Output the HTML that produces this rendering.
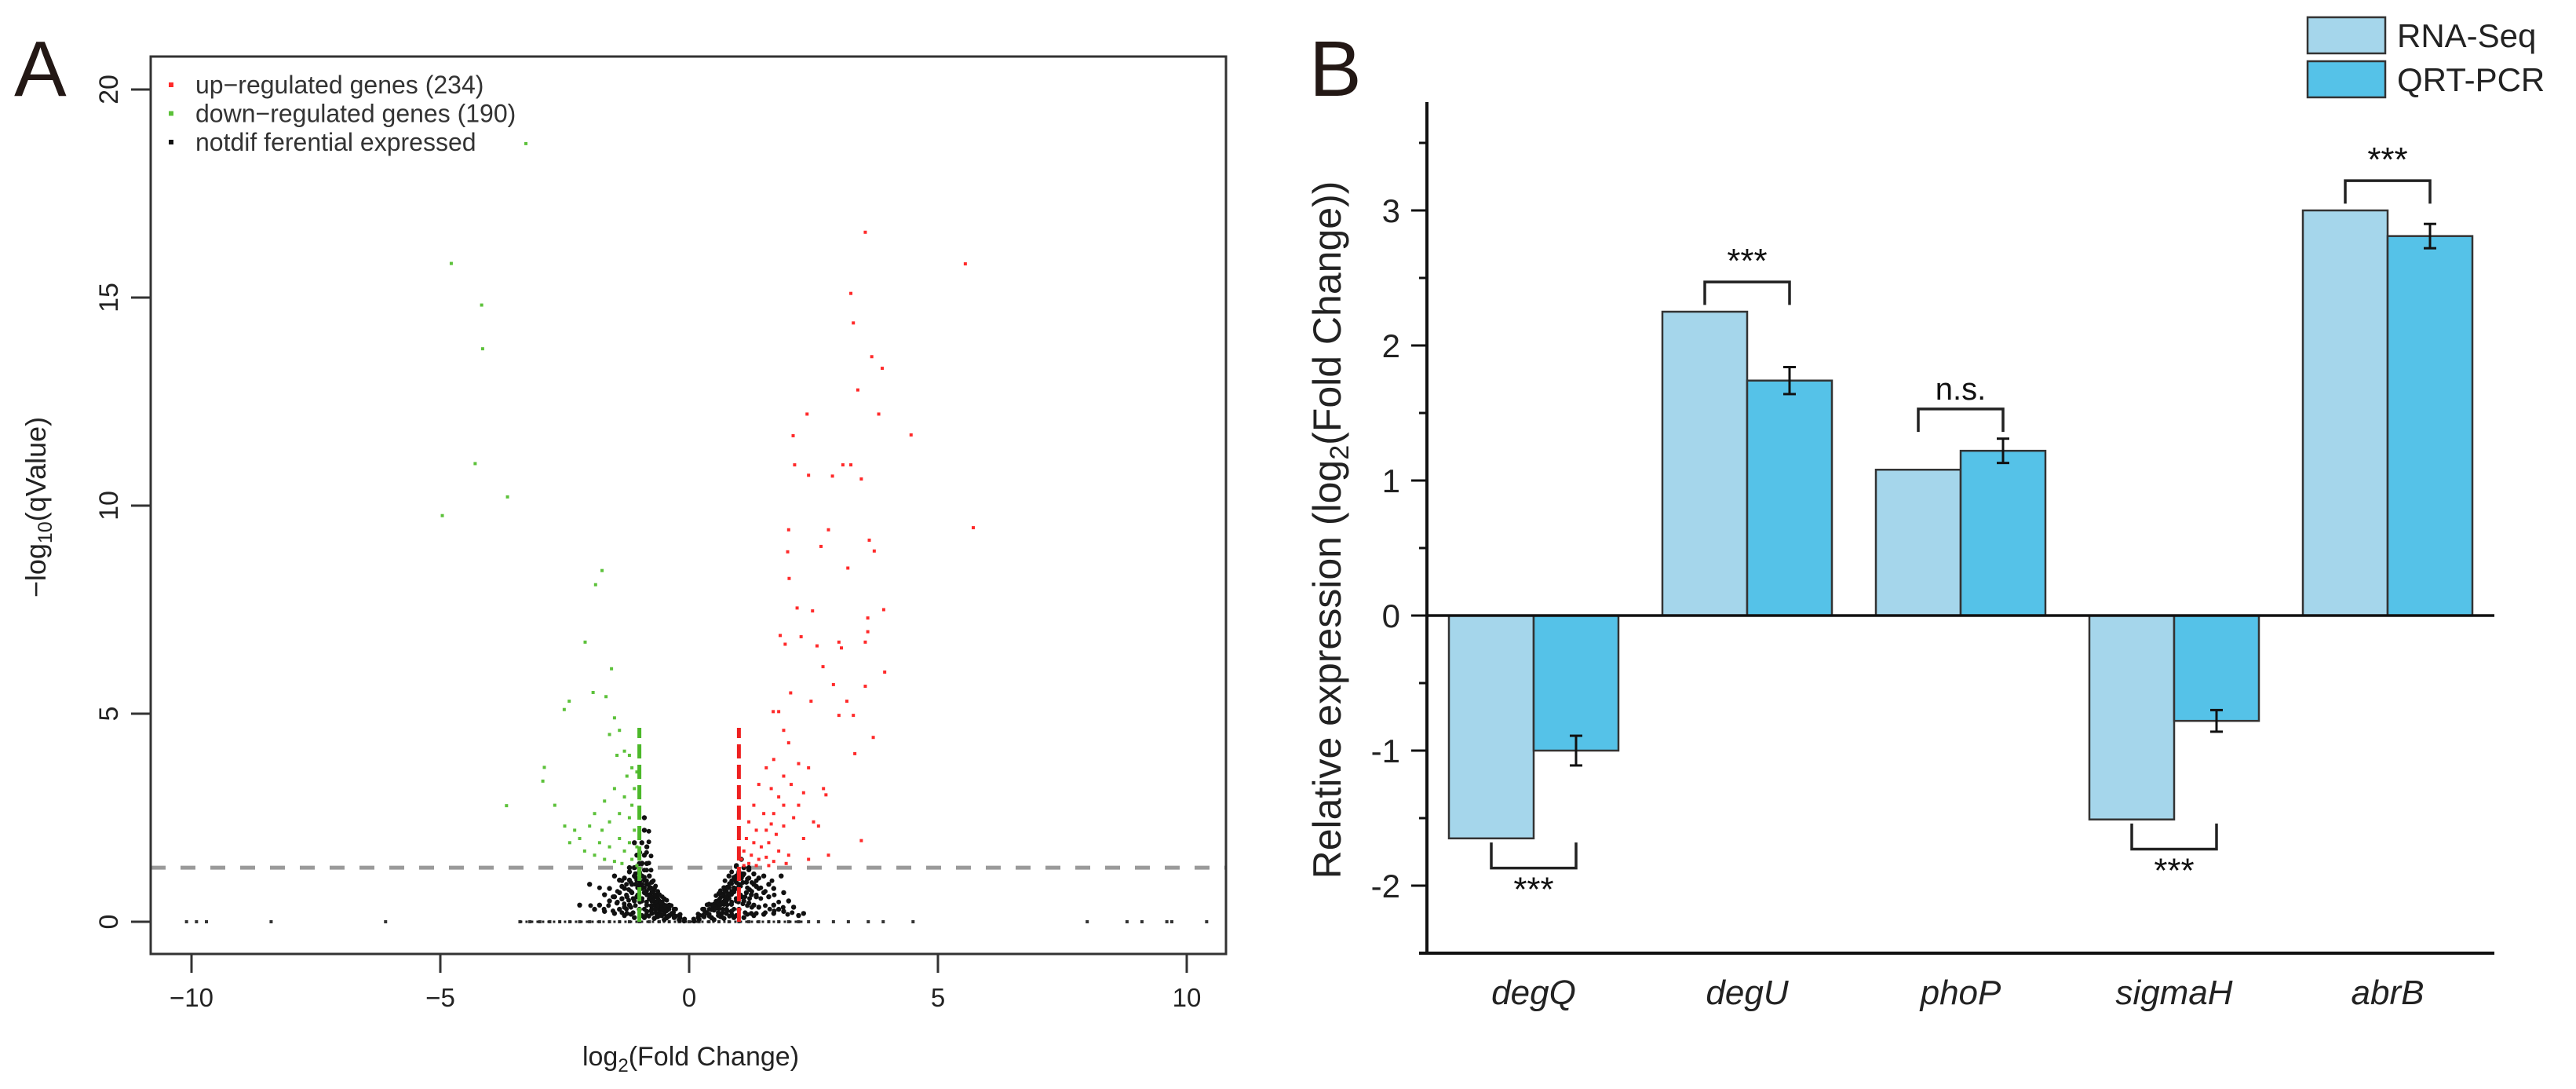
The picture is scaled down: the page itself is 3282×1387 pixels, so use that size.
<!DOCTYPE html>
<html><head><meta charset="utf-8">
<style>
html,body{margin:0;padding:0;background:#fff;}
svg{display:block;font-family:"Liberation Sans",Arial,sans-serif;}
</style></head>
<body>
<svg id="fig" width="3282" height="1387" viewBox="0 0 3282 1387" xmlns="http://www.w3.org/2000/svg">
<g id="panelA"></g>
<g id="panelB"></g>
</svg>
<script>
// ---------- Panel A data ----------
const upX = [3.54,5.55,3.25,3.30,3.67,3.88,3.39,2.37,3.81,4.46,2.09,2.12,3.09,3.25,2.40,2.88,3.46,5.71,2.00,2.80,2.65,3.62,3.72,1.98,3.19,2.01,3.91,2.17,2.48,3.59,1.83,1.93,3.01,3.06,3.59,3.54,2.57,2.25,3.93,2.69,2.04,2.90,3.17,3.54,3.01,1.69,1.80,2.45,3.30,3.70,3.33,3.46,
1.9,2.0,1.7,1.55,1.9,2.2,2.4,1.4,1.65,1.8,2.05,2.3,2.7,2.75,1.3,1.5,1.7,1.9,2.1,2.5,1.2,1.35,1.55,1.75,1.9,2.3,1.15,1.3,1.45,1.6,1.8,2.0,1.1,1.25,1.4,1.55,1.7,2.4,2.8,1.05,1.2,1.35,1.1,1.6,1.95,2.6,2.2,1.65];
const upY = [16.57,15.81,15.10,14.39,13.58,13.30,12.78,12.20,12.20,11.70,11.68,10.98,10.98,10.98,10.73,10.71,10.64,9.47,9.42,9.42,9.02,9.17,8.91,8.89,8.50,8.25,7.50,7.54,7.47,7.30,6.88,6.67,6.72,6.58,6.97,6.72,6.63,6.85,6.00,6.13,5.50,5.70,5.30,5.66,4.96,5.05,5.05,5.30,4.96,4.43,4.04,1.95,
4.6,4.3,3.9,3.7,3.5,3.8,3.7,3.3,3.2,3.0,3.3,3.1,3.2,3.05,2.8,2.6,2.6,2.8,2.5,2.4,2.4,2.2,2.2,2.1,2.3,2.0,2.0,1.9,1.8,1.9,1.7,1.6,1.7,1.6,1.5,1.55,1.45,1.5,1.6,1.5,1.4,1.35,1.35,1.35,1.4,2.3,2.8,2.35];
const downX = [-3.28,-4.78,-4.17,-4.15,-4.30,-3.65,-4.96,-1.75,-1.88,-2.09,-1.56,-1.93,-1.67,-2.41,-2.51,-2.91,-2.94,-3.67,
-1.5,-1.4,-1.6,-1.3,-1.2,-1.45,-1.15,-1.05,-1.25,-2.7,-2.5,-2.3,-2.2,-2.0,-1.9,-1.7,-1.5,-1.3,-1.1,-1.6,-1.4,-1.2,-1.1,-1.8,-1.6,-1.4,-1.3,-1.2,-1.05,-2.1,-1.9,-1.7,-1.5,-1.35,-1.15,-1.05,-2.4,-1.0,-1.0,-1.15,-1.75];
const downY = [18.70,15.82,14.82,13.77,11.01,10.21,9.76,8.44,8.10,6.72,6.08,5.51,5.41,5.30,5.10,3.71,3.38,2.79,
4.9,4.6,4.5,4.1,4.0,4.0,3.7,3.6,3.5,2.8,2.3,2.2,2.0,2.3,2.6,2.9,3.2,3.0,3.2,2.4,2.6,2.5,2.2,1.9,1.8,2.0,1.7,1.9,1.8,1.7,1.6,1.5,1.45,1.4,1.5,1.35,1.9,2.7,3.0,2.8,2.2];
const nsX = [-0.1,-0.2,-0.3,-0.35,-0.4,-0.45,-0.5,-0.5,-0.55,-0.6,-0.6,-0.65,-0.7,-0.7,-0.75,-0.75,-0.8,-0.8,-0.85,-0.85,-0.9,-0.9,-0.95,-0.95,-1.0,-1.0,-1.05,-1.1,-1.15,-1.2,-1.3,-1.4,-1.5,-1.6,-1.8,-0.85,-0.9,-0.95,-0.9,-0.85,-1.05,-1.1,-1.2,-1.3,-1.4,-1.25,-1.35,-1.45,-0.65,-0.55,-0.75,-0.85,-0.95,-1.0,-0.7,-0.6,-0.5,-0.4,-0.3,-0.2,-1.1,-1.2,-1.3,-1.0,-0.8,-0.75,
0.1,0.2,0.3,0.35,0.4,0.45,0.5,0.5,0.55,0.6,0.6,0.65,0.7,0.7,0.75,0.75,0.8,0.8,0.85,0.85,0.9,0.9,0.95,0.95,1.0,1.0,1.05,1.1,1.15,1.2,1.3,1.4,1.5,1.6,1.7,1.8,2.0,2.3,1.05,1.1,1.2,1.3,1.4,1.25,1.35,0.65,0.75,0.85,0.95,1.0,0.7,0.6,0.4,0.3,0.2,1.1,1.2,1.3,0.8,
-1.9,-1.7,-1.5,-1.3,-1.1,-0.9,-0.7,-0.5,-1.6,-1.4,-1.2,-1.05,-0.95,-1.5,-1.7,-1.35,-1.15,-0.85,-0.65,-0.45,-2.2,-2.0,-1.1,-0.9,-0.95,-1.25,-0.75,
1.9,1.7,1.5,1.3,1.1,0.9,0.7,0.5,1.6,1.4,1.2,1.05,0.95,1.5,1.7,1.35,1.15,0.85,0.65,0.45,2.1,1.9,1.85,0.95,1.25,0.75,2.2];
const nsY = [0.02,0.05,0.1,0.2,0.15,0.3,0.25,0.4,0.35,0.5,0.3,0.45,0.6,0.4,0.7,0.5,0.8,0.55,0.9,0.65,1.0,0.7,1.1,0.8,1.2,0.9,1.0,1.1,0.9,1.0,0.8,0.7,0.6,0.5,0.4,1.4,1.6,1.9,2.2,1.8,0.6,0.5,0.4,0.35,0.3,0.6,0.55,0.45,0.2,0.15,0.3,0.4,0.5,0.3,0.8,0.65,0.55,0.4,0.3,0.15,1.3,1.2,1.05,1.4,1.1,0.95,
0.02,0.06,0.12,0.22,0.18,0.3,0.28,0.42,0.38,0.52,0.32,0.46,0.62,0.42,0.72,0.5,0.82,0.56,0.92,0.66,1.02,0.72,1.1,0.8,1.2,0.9,1.05,1.15,0.95,1.05,0.9,0.8,0.7,0.6,0.4,0.3,0.5,0.2,0.6,0.5,0.45,0.4,0.35,0.65,0.6,0.2,0.3,0.42,0.5,0.3,0.82,0.68,0.42,0.3,0.16,1.3,1.25,1.15,1.1,
0.3,0.25,0.2,0.15,0.1,0.1,0.08,0.05,0.8,1.0,1.3,1.6,1.4,1.1,0.65,0.85,0.7,0.25,0.12,0.1,0.4,0.9,1.9,2.5,0.15,0.2,0.2,
0.25,0.2,0.18,0.15,0.1,0.1,0.08,0.05,0.9,1.05,1.3,1.5,1.35,1.1,0.8,0.85,0.7,0.25,0.12,0.1,0.35,0.7,1.1,0.15,0.2,0.2,0.15];
const zeroX = [-10.1,-9.9,-9.7,-8.4,-6.1,-3.4,-3.2,-3.0,-2.8,-2.6,-2.4,-2.2,-2.0,-1.8,-1.6,-1.4,-1.2,-1.0,-0.8,-0.6,-0.4,-0.2,0,0.2,0.4,0.6,0.8,1.0,1.2,1.4,1.6,1.8,2.0,2.2,2.4,2.6,2.9,3.2,3.6,3.9,4.5,8.0,8.8,9.1,9.6,9.7,10.4];
const xTicksA = [-10,-5,0,5,10];
const yTicksA = [0,5,10,15,20];
const qThreshold = 1.3;
const fcThreshold = 1;

// ---------- Panel B data ----------
const genes = ["degQ","degU","phoP","sigmaH","abrB"];
const rnaSeq = [-1.65,2.25,1.08,-1.51,3.0];
const qrtPcr = [-1.0,1.74,1.22,-0.78,2.81];
const qrtErr = [0.11,0.1,0.09,0.08,0.09];
const sigLabels = ["***","***","n.s.","***","***"];
const yTicksB = [-2,-1,0,1,2,3];

const NS = "http://www.w3.org/2000/svg";
function mk(parent, tag, attrs, text){
  const e = document.createElementNS(NS, tag);
  for (const k in attrs) e.setAttribute(k, attrs[k]);
  if (text !== undefined) e.textContent = text;
  parent.appendChild(e);
  return e;
}

// ===== Panel A =====
(function(){
  const g = document.getElementById('panelA');
  const L=192, R=1562, T=72, B=1215;
  const x0=878, ux=63.4, y0=1174, uy=53;
  const sx = v => x0 + v*ux;
  const sy = v => y0 - v*uy;
  let e;
  e = mk(g,'text',{x:18,y:122,'font-size':100,fill:'#231815'},'A');
  
  
  e = mk(g,'line',{x1:L,x2:R,y1:sy(qThreshold),y2:sy(qThreshold),stroke:'#9a9a9a','stroke-width':5,'stroke-dasharray':'19 19'});
  
  
  const pts = mk(g,'g',{});
  
  
  for (let i=0;i<zeroX.length;i++){
    mk(pts,'rect',{x:sx(zeroX[i])-2,y:sy(0)-2,width:4,height:4,fill:'#333'});
  }
  mk(pts,'line',{x1:sx(-3.4),x2:sx(2.3),y1:sy(0),y2:sy(0),stroke:'#222','stroke-width':3,'stroke-dasharray':'3 4'});
  for (let i=0;i<nsX.length;i++){
    mk(pts,'circle',{cx:sx(nsX[i]),cy:sy(nsY[i]),r:3.2,fill:'#111'});
    mk(pts,'circle',{cx:sx(nsX[i]*0.9),cy:sy(nsY[i]*0.85+0.05),r:3,fill:'#111'});
  }
  const up = mk(g,'g',{});
  
  
  for (let i=0;i<upX.length;i++) mk(up,'rect',{x:sx(upX[i])-2,y:sy(upY[i])-2,width:4,height:4,fill:'#ff2a2a'});
  const dn = mk(g,'g',{});
  
  
  for (let i=0;i<downX.length;i++) mk(dn,'rect',{x:sx(downX[i])-2,y:sy(downY[i])-2,width:4,height:4,fill:'#5cc13a'});
  e = mk(g,'line',{x1:sx(-fcThreshold),x2:sx(-fcThreshold),y1:sy(0),y2:sy(4.66),stroke:'#4cb82a','stroke-width':5,'stroke-dasharray':'18 8'});
  
  
  e = mk(g,'line',{x1:sx(fcThreshold),x2:sx(fcThreshold),y1:sy(0),y2:sy(4.66),stroke:'#ee2020','stroke-width':5,'stroke-dasharray':'18 8'});
  
  
  e = mk(g,'rect',{x:L,y:T,width:R-L,height:B-T,fill:'none',stroke:'#333','stroke-width':3});
  
  
  for (const t of xTicksA){
    mk(g,'line',{x1:sx(t),x2:sx(t),y1:B,y2:B+24,stroke:'#333','stroke-width':3});
    e = mk(g,'text',{x:sx(t),y:1282,'font-size':33,'text-anchor':'middle',fill:'#222'}, t<0 ? '\u2212'+Math.abs(t) : String(t));
    
    
  }
  for (const t of yTicksA){
    mk(g,'line',{x1:L-25,x2:L,y1:sy(t),y2:sy(t),stroke:'#333','stroke-width':3});
    e = mk(g,'text',{x:0,y:0,'font-size':34,'text-anchor':'middle',fill:'#222',transform:`translate(150 ${sy(t)}) rotate(-90)`}, String(t));
    
    
  }
  e = mk(g,'text',{x:880,y:1357,'font-size':34,'text-anchor':'middle',fill:'#222'});
  
  
  e.innerHTML = 'log<tspan font-size="24" dy="8">2</tspan><tspan dy="-8">(Fold Change)</tspan>';
  e = mk(g,'text',{x:0,y:0,'font-size':36,'text-anchor':'middle',fill:'#222',transform:'translate(58 646) rotate(-90)'});
  
  
  e.innerHTML = '\u2212log<tspan font-size="25" dy="8">10</tspan><tspan dy="-8">(qValue)</tspan>';
  const leg = [['#ff2a2a','up\u2212regulated genes (234)'],['#5cc13a','down\u2212regulated genes (190)'],['#111','notdif ferential  expressed']];
  leg.forEach((d,i)=>{
    const y = 108 + i*36.5;
    const lg = mk(g,'g',{});
    
    
    mk(lg,'rect',{x:215,y:y-3,width:6,height:6,fill:d[0]});
    mk(lg,'text',{x:249,y:y+11,'font-size':32,fill:'#333'},d[1]);
  });
})();

// ===== Panel B =====
(function(){
  const g = document.getElementById('panelB');
  const AX=1818, TOP=130, BOT=1214, RIGHT=3178;
  const y0=784, uy=172;
  const sy = v => y0 - v*uy;
  const g0=1846, pitch=272, bw=108;
  let e;
  e = mk(g,'text',{x:1668,y:122,'font-size':100,fill:'#231815'},'B');
  
  
  genes.forEach((gname,i)=>{
    const xl = g0 + i*pitch;
    const r1 = rnaSeq[i], r2 = qrtPcr[i];
    e = mk(g,'rect',{x:xl,y:Math.min(sy(r1),y0),width:bw,height:Math.abs(sy(r1)-y0),fill:'#a5d6eb',stroke:'#333','stroke-width':2.5});
    
    
    e = mk(g,'rect',{x:xl+bw,y:Math.min(sy(r2),y0),width:bw,height:Math.abs(sy(r2)-y0),fill:'#55c2e8',stroke:'#333','stroke-width':2.5});
    
    
    const cx = xl + bw*1.5;
    const eg = mk(g,'g',{stroke:'#111','stroke-width':3});
    
    
    mk(eg,'line',{x1:cx,x2:cx,y1:sy(r2+qrtErr[i]),y2:sy(r2-qrtErr[i])});
    mk(eg,'line',{x1:cx-8,x2:cx+8,y1:sy(r2+qrtErr[i]),y2:sy(r2+qrtErr[i])});
    mk(eg,'line',{x1:cx-8,x2:cx+8,y1:sy(r2-qrtErr[i]),y2:sy(r2-qrtErr[i])});
    const c1 = xl + bw*0.5, c2 = cx;
    const bg = mk(g,'g',{});
    
    
    let top, leg1, leg2, ty;
    if (r1 > 0){
      const hi = Math.max(r1, r2+qrtErr[i]);
      top = hi + 0.22; leg1 = hi + 0.05; leg2 = hi + 0.05;
      ty = sy(top) - 12;
    } else {
      const lo = Math.min(r1, r2-qrtErr[i]);
      top = lo - 0.22; leg1 = lo - 0.03; leg2 = lo - 0.03;
      ty = sy(top) + 42;
    }
    mk(bg,'polyline',{points:`${c1},${sy(leg1)} ${c1},${sy(top)} ${c2},${sy(top)} ${c2},${sy(leg2)}`,fill:'none',stroke:'#222','stroke-width':3.5});
    mk(bg,'text',{x:(c1+c2)/2,y:ty,'font-size':sigLabels[i]==='n.s.'?40:44,'text-anchor':'middle',fill:'#111'},sigLabels[i]);
    e = mk(g,'text',{x:xl+bw,y:1279,'font-size':44,'font-style':'italic','text-anchor':'middle',fill:'#222'},gname);
    
    
  });
  e = mk(g,'line',{x1:AX,x2:AX,y1:TOP,y2:BOT,stroke:'#111','stroke-width':4});
  
  
  e = mk(g,'line',{x1:AX-10,x2:RIGHT,y1:BOT,y2:BOT,stroke:'#111','stroke-width':4});
  
  
  e = mk(g,'line',{x1:AX,x2:RIGHT,y1:y0,y2:y0,stroke:'#111','stroke-width':3.5});
  
  
  for (const t of yTicksB){
    mk(g,'line',{x1:AX-20,x2:AX,y1:sy(t),y2:sy(t),stroke:'#111','stroke-width':3});
    mk(g,'line',{x1:AX-10,x2:AX,y1:sy(t+0.5),y2:sy(t+0.5),stroke:'#111','stroke-width':3});
    e = mk(g,'text',{x:AX-34,y:sy(t)+15,'font-size':42,'text-anchor':'end',fill:'#222'},String(t));
    
    
  }
  e = mk(g,'text',{x:0,y:0,'font-size':50,'text-anchor':'middle',fill:'#222',transform:'translate(1708 675) rotate(-90)'});
  
  
  e.innerHTML = 'Relative expression (log<tspan font-size="34" dy="10">2</tspan><tspan dy="-10">(Fold Change))</tspan>';
  const lg1 = mk(g,'g',{});
  
  
  mk(lg1,'rect',{x:2940,y:22,width:99,height:46,fill:'#a5d6eb',stroke:'#333','stroke-width':2.5});
  mk(lg1,'text',{x:3054,y:60,'font-size':42,fill:'#222'},'RNA-Seq');
  const lg2 = mk(g,'g',{});
  
  
  mk(lg2,'rect',{x:2940,y:78,width:99,height:46,fill:'#55c2e8',stroke:'#333','stroke-width':2.5});
  mk(lg2,'text',{x:3054,y:116,'font-size':42,fill:'#222'},'QRT-PCR');
})();
</script>
</body></html>
